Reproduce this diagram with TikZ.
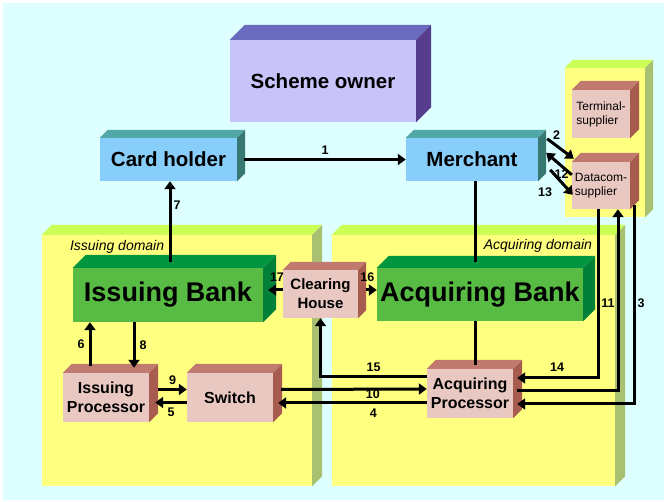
\documentclass[tikz,border=0pt]{standalone}
\usepackage{fontspec}
\setmainfont{Liberation Sans}
\usetikzlibrary{arrows.meta,positioning}

\definecolor{bgcyan}{HTML}{DDFFFF}
\definecolor{lilacfront}{HTML}{C8C4FA}
\definecolor{lilactop}{HTML}{6B6BBE}
\definecolor{lilacside}{HTML}{553C8C}
\definecolor{cyanfront}{HTML}{87CEFA}
\definecolor{cyantop}{HTML}{52A8A8}
\definecolor{cyanside}{HTML}{387873}
\definecolor{domfront}{HTML}{FFFF80}
\definecolor{domtop}{HTML}{CCFF55}
\definecolor{domside}{HTML}{A8C070}
\definecolor{greenfront}{HTML}{58BC44}
\definecolor{greentop}{HTML}{009640}
\definecolor{greenside}{HTML}{008038}
\definecolor{pinkfront}{HTML}{E8C8C0}
\definecolor{pinktop}{HTML}{C07A70}
\definecolor{pinkside}{HTML}{A85C50}

% top and right faces of a box: node, depth, top colour, side colour
\newcommand\cubefaces[4]{%
  \fill[#3] (#1.north west) -- ++(#2,-#2) -- ([shift={(#2,-#2)}]#1.north east) -- (#1.north east) -- cycle;
  \fill[#4] (#1.north east) -- ++(#2,-#2) -- ([shift={(#2,-#2)}]#1.south east) -- (#1.south east) -- cycle;
}

\begin{document}
\begin{tikzpicture}[x=1pt,y=-1pt,
    box/.style={inner sep=0pt, align=center},
    cyanbox/.style={box, fill=cyanfront, font=\bfseries\fontsize{20.5}{24}\selectfont, minimum height=43pt},
    greenbox/.style={box, fill=greenfront, font=\bfseries\fontsize{27}{32}\selectfont, minimum height=54pt},
    pinkbox/.style={box, fill=pinkfront, font=\bfseries\fontsize{16}{19}\selectfont, minimum width=86pt, minimum height=49pt},
    supplbox/.style={pinkbox, font=\fontsize{12}{14}\selectfont, align=left, minimum width=58pt, minimum height=48pt},
    dombox/.style={box, fill=domfront, minimum height=251pt},
    domlbl/.style={inner sep=0pt, font=\itshape\fontsize{14}{16}\selectfont},
    num/.style={inner sep=0pt, font=\bfseries\fontsize{12.5}{14}\selectfont},
    arr/.style={line width=3pt, -{Triangle[length=8pt,width=11pt]}},
    link/.style={line width=3pt}]

  \useasboundingbox (0,0) rectangle (667,502);
  \fill[white] (0,0) rectangle (667,502);
  \fill[bgcyan] (3,3) rectangle (664,500);

  % domains
  \node[dombox, minimum width=270pt] (iss_dom) at (177,360.5) {};
  \cubefaces{iss_dom}{10}{domtop}{domside}
  \node[dombox, minimum width=283pt] (acq_dom) at (473.5,360.5) {};
  \cubefaces{acq_dom}{10}{domtop}{domside}
  \node[box, fill=domfront, minimum width=80pt, minimum height=149pt] (suppliers) at (605,142.5) {};
  \cubefaces{suppliers}{8}{domtop}{domside}

  \node[domlbl, anchor=west] (iss_lbl) at ([shift={(28,12)}]iss_dom.north west) {Issuing domain};
  \node[domlbl, anchor=east] (acq_lbl) at ([shift={(-23,11)}]acq_dom.north east) {Acquiring domain};

  % boxes
  \node[box, fill=lilacfront, minimum width=186pt, minimum height=82pt,
        font=\bfseries\fontsize{20.5}{24}\selectfont] (scheme_owner) at (323,81) {Scheme owner};
  \cubefaces{scheme_owner}{15}{lilactop}{lilacside}

  \node[cyanbox, minimum width=137pt] (card_holder) at (168.5,159.5) {Card holder};
  \cubefaces{card_holder}{8}{cyantop}{cyanside}
  \node[cyanbox, minimum width=132pt] (merchant) at (472,159.5) {Merchant};
  \cubefaces{merchant}{8}{cyantop}{cyanside}

  \node[supplbox] (terminal) at (601,114) {Terminal-\\supplier};
  \cubefaces{terminal}{9}{pinktop}{pinkside}
  \node[supplbox, minimum height=47pt] (datacom) at (601,185.5) {Datacom-\\supplier};
  \cubefaces{datacom}{9}{pinktop}{pinkside}

  \node[greenbox, minimum width=190pt] (iss_bank) at (168,295) {Issuing Bank};
  \cubefaces{iss_bank}{13}{greentop}{greenside}
  \node[greenbox, minimum width=206pt, minimum height=53pt] (acq_bank) at (480,294.5) {Acquiring Bank};
  \cubefaces{acq_bank}{12}{greentop}{greenside}

  \node[pinkbox, minimum width=75pt, minimum height=48pt,
        font=\bfseries\fontsize{15}{19}\selectfont] (clearing) at (320.5,294) {Clearing\\House};
  \cubefaces{clearing}{8}{pinktop}{pinkside}

  \node[pinkbox] (iss_proc) at (106,397.5) {Issuing\\Processor};
  \cubefaces{iss_proc}{9}{pinktop}{pinkside}
  \node[pinkbox] (switch) at (230,397.5) {Switch};
  \cubefaces{switch}{9}{pinktop}{pinkside}
  \node[pinkbox] (acq_proc) at (470,393.5) {Acquiring\\Processor};
  \cubefaces{acq_proc}{9}{pinktop}{pinkside}

  % connectors
  \draw[arr] ([xshift=7pt]card_holder.east) -- (merchant.west) node[num, midway, above=3pt] {1};
  \draw[arr] ([shift={(9,1)}]merchant.north east) -- ([shift={(2,-3)}]datacom.north west)
    node[num, pos=0.35, above=5pt] {2};
  \draw[arr] ([shift={(0,13)}]datacom.north west) -- ([shift={(8,15)}]merchant.north east)
    node[num, pos=0.4, below=2pt] {12};
  \draw[arr] ([shift={(12,32)}]merchant.north east) -- ([shift={(1,33)}]datacom.north west)
    node[num, pos=0.5, below left=4pt and 8pt] {13};

  \draw[arr] ([shift={(2,-6)}]iss_bank.north) -- ([xshift=1.5pt]card_holder.south)
    node[num, pos=0.7, right=2pt] {7};
  \draw[arr] ([shift={(-16,-7)}]iss_proc.north) coordinate (p6) -- (p6 |- iss_bank.south)
    node[num, midway, left=4pt] {6};
  \draw[arr] ([xshift=-34pt]iss_bank.south) coordinate (p8) -- ([yshift=5pt]p8 |- iss_proc.north)
    node[num, midway, right=4pt] {8};

  \draw[arr] ([shift={(9,-8)}]iss_proc.east) -- ([yshift=8pt]switch.west) node[num, midway, above=3pt] {9};
  \draw[arr] ([yshift=-5pt]switch.west) -- ([shift={(6,5)}]iss_proc.east) node[num, midway, below=4pt] {5};
  \draw[arr] ([shift={(8,-8)}]switch.east) -- ([yshift=4.5pt]acq_proc.west) node[num, pos=0.63, below=-1pt] {10};
  \draw[arr] ([yshift=-9.5pt]acq_proc.west) -- ([shift={(5,5.5)}]switch.east) node[num, pos=0.36, below=4pt] {4};
  \draw[arr] ([yshift=16.5pt]acq_proc.west) -| (clearing.south) node[num, pos=0.25, above=4pt] {15};

  \draw[arr] ([yshift=4pt]clearing.west) -- ([shift={(5,-5)}]iss_bank.east) node[num, pos=0.4, above=7pt] {17};
  \draw[arr] ([shift={(8,-4)}]clearing.east) -- ([yshift=4.5pt]acq_bank.west) node[num, pos=0.1, above=7pt] {16};

  \draw[link] ([xshift=3pt]merchant.south) -- ([shift={(-5,-6)}]acq_bank.north);
  \draw[link] ([xshift=-5pt]acq_bank.south) -- ([shift={(5,-4)}]acq_proc.north);

  \draw[arr] ([xshift=-3pt]datacom.south) |- ([shift={(4,-15.5)}]acq_proc.east)
    node[num, pos=0.753, above=5pt] {14};
  \draw[arr] ([shift={(4,-2.5)}]acq_proc.east) -| ([xshift=17pt]datacom.south)
    node[num, pos=0.742, left=2pt] {11};
  \draw[arr] ([xshift=33pt,yshift=4pt]datacom.south) |- ([shift={(4,10.5)}]acq_proc.east)
    node[num, pos=0.246, right=2pt] {3};
\end{tikzpicture}
\end{document}
